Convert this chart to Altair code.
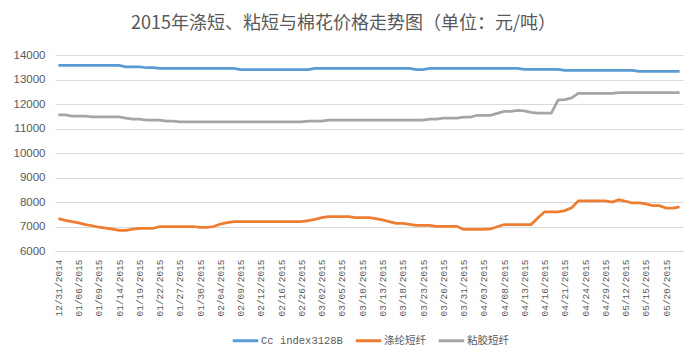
import json
import altair as alt
import pandas as pd

TITLE = "2015年涤短、粘短与棉花价格走势图（单位：元/吨）"

x_labels = ["12/31/2014", "01/06/2015", "01/09/2015", "01/14/2015", "01/19/2015",
            "01/22/2015", "01/27/2015", "01/30/2015", "02/04/2015", "02/09/2015",
            "02/12/2015", "02/16/2015", "02/26/2015", "03/02/2015", "03/05/2015",
            "03/10/2015", "03/13/2015", "03/18/2015", "03/23/2015", "03/26/2015",
            "03/31/2015", "04/03/2015", "04/08/2015", "04/13/2015", "04/16/2015",
            "04/21/2015", "04/24/2015", "04/29/2015", "05/12/2015", "05/15/2015",
            "05/20/2015"]

series_names = ["Cc index3128B", "涤纶短纤", "粘胶短纤"]
series_colors = ["#5B9BD5", "#ED7D31", "#A5A5A5"]

cc_index = [
    13580, 13580, 13580, 13580, 13580, 13580, 13580, 13580, 13580, 13580,
    13520, 13520, 13520, 13480, 13480,
    13450, 13450, 13450, 13450, 13450, 13450, 13450, 13450, 13450, 13450, 13450, 13450,
    13400, 13400, 13400, 13400, 13400, 13400, 13400, 13400, 13400, 13400, 13400,
    13450, 13450, 13450, 13450, 13450, 13450, 13450, 13450, 13450, 13450, 13450, 13450,
    13450, 13450, 13450,
    13400, 13400,
    13450, 13450, 13450, 13450, 13450, 13450, 13450, 13450, 13450, 13450, 13450, 13450,
    13450, 13450,
    13410, 13410, 13410, 13410, 13410, 13410,
    13370, 13370, 13370, 13370, 13370, 13370, 13370, 13370, 13370, 13370, 13370,
    13330, 13330, 13330, 13330, 13330, 13330, 13330,
]

polyester = [
    7320, 7250, 7200, 7150, 7080, 7030, 6970, 6930, 6890, 6840,
    6840, 6890, 6920, 6920, 6920, 7000, 7000, 7000, 7000, 7000,
    7000, 6960, 6960, 7000, 7100, 7160, 7200, 7200, 7200, 7200,
    7200, 7200, 7200, 7200, 7200, 7200, 7200, 7240, 7290, 7360,
    7400, 7400, 7400, 7400, 7360, 7360, 7360, 7320, 7270, 7200,
    7130, 7130, 7090, 7050, 7050, 7050, 7010, 7010, 7010, 7010,
    6880, 6880, 6880, 6880, 6900, 6990, 7080, 7080, 7080, 7080,
    7080, 7350, 7600, 7600, 7600, 7650, 7760, 8050, 8050, 8050,
    8050, 8050, 8000, 8090, 8030, 7960, 7960, 7920, 7850, 7850,
    7750, 7750, 7800,
]

viscose = [
    11560, 11560, 11510, 11510, 11510, 11470, 11470, 11470, 11470, 11470,
    11420, 11380, 11380, 11340, 11340, 11340, 11300, 11300, 11270, 11270,
    11270, 11270, 11270, 11270, 11270, 11270, 11270, 11270, 11270, 11270,
    11270, 11270, 11270, 11270, 11270, 11270, 11270, 11300, 11300, 11300,
    11340, 11340, 11340, 11340, 11340, 11340, 11340, 11340, 11340, 11340,
    11340, 11340, 11340, 11340, 11340, 11380, 11380, 11420, 11420, 11420,
    11460, 11460, 11540, 11540, 11540, 11620, 11700, 11700, 11740, 11720,
    11660, 11630, 11630, 11630, 12160, 12180, 12250, 12430, 12430, 12430,
    12430, 12430, 12430, 12460, 12460, 12460, 12460, 12460, 12460, 12460,
    12460, 12460, 12460,
]

rows = []
for name, vals in zip(series_names, [cc_index, polyester, viscose]):
    for i, v in enumerate(vals):
        rows.append({"i": i, "v": v, "s": name})
df = pd.DataFrame(rows)

label_expr = json.dumps(x_labels) + "[round(datum.value / 3)]"

lines = alt.Chart(df).mark_line(strokeWidth=2.75).encode(
    x=alt.X("i:Q",
            scale=alt.Scale(domain=[-0.5, len(cc_index) - 0.5], nice=False, zero=False),
            axis=alt.Axis(values=list(range(0, len(cc_index), 3)), labelExpr=label_expr,
                          labelAngle=270, labelFont="Liberation Mono", labelFontSize=9.5,
                          labelColor="#595959", ticks=False, grid=False,
                          domainColor="#D9D9D9", domainWidth=1, labelPadding=8,
                          labelOverlap=False, title=None)),
    y=alt.Y("v:Q",
            scale=alt.Scale(domain=[6000, 14000], nice=False, zero=False),
            axis=alt.Axis(values=list(range(6000, 14001, 1000)), grid=True,
                          gridColor="#D9D9D9", domain=False, ticks=False,
                          labelFont="Liberation Sans", labelFontSize=11.5,
                          labelColor="#595959", labelPadding=10, format="d",
                          title=None)),
    color=alt.Color("s:N",
                    scale=alt.Scale(domain=series_names, range=series_colors),
                    sort=series_names,
                    legend=alt.Legend(orient="none", legendX=176, legendY=271,
                                      direction="horizontal", title=None,
                                      symbolType="stroke", symbolStrokeWidth=3,
                                      symbolSize=650,
                                      labelFont="Liberation Mono, Noto Sans CJK SC",
                                      labelFontSize=10.5, labelColor="#595959",
                                      columnPadding=6, labelOffset=1)),
)

title_text = alt.Chart(pd.DataFrame({"t": [TITLE]})).mark_text(
    font="Noto Sans CJK SC", fontSize=18, color="#595959",
    baseline="middle", align="center"
).encode(x=alt.value(288.5), y=alt.value(-31), text="t:N")

chart = alt.layer(lines, title_text).properties(
    width=628, height=196,
    padding={"left": 47, "top": 47, "right": 8, "bottom": 99},
    autosize=alt.AutoSizeParams(type="none"),
).configure_view(stroke=None)

chart.save("out.html", embed_options={"renderer": "svg", "actions": False})
